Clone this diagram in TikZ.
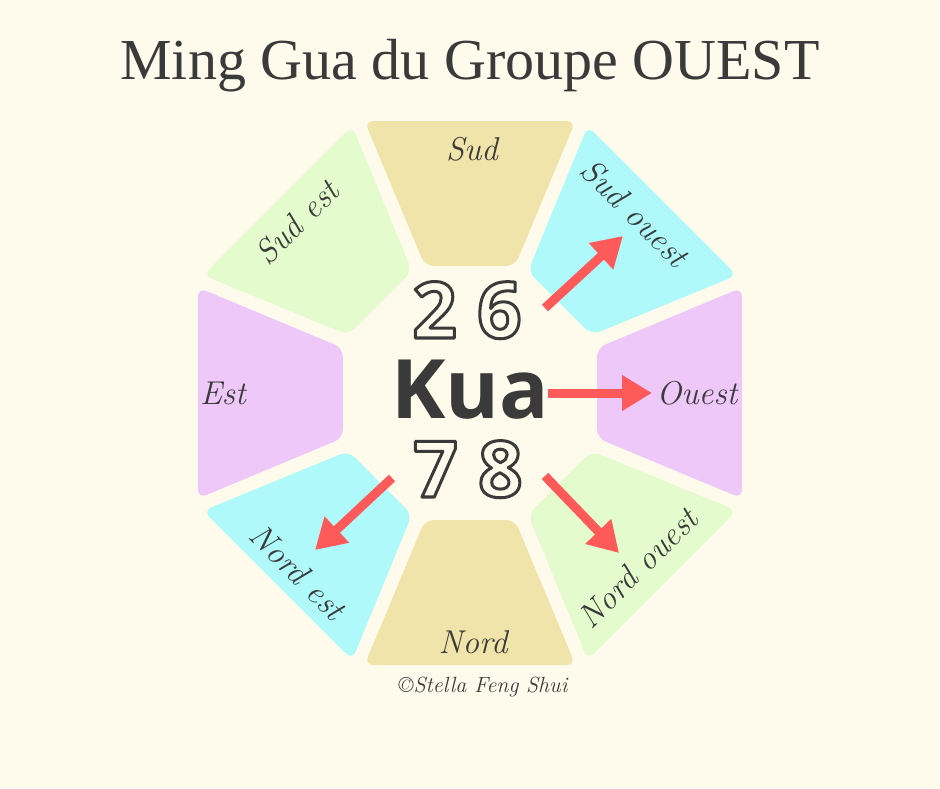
\documentclass[tikz,border=0pt]{standalone}
\usepackage{fontspec}
\newfontfamily\titlefont{Liberation Serif}
\newfontfamily\kuafont{Open Sans}
\usetikzlibrary{arrows.meta}

\definecolor{bgcream}{HTML}{FEFBEC}
\definecolor{ink}{HTML}{3A3A3A}
\definecolor{segtan}{HTML}{F1E4AA}
\definecolor{seggreen}{HTML}{E3FBCD}
\definecolor{segcyan}{HTML}{AFF9FB}
\definecolor{seglilac}{HTML}{EEC8F8}
\definecolor{arrowred}{HTML}{FF5A5A}

% hollow digits: stroke only
\newcommand{\hollow}[1]{\special{pdf:literal direct 1 Tr 3 w 1 j}#1\special{pdf:literal direct 0 Tr}}

\tikzset{
  segment/.style={fill=#1, rounded corners=9pt},
  place/.style={font=\itshape\fontsize{33}{33}\selectfont, text=ink, inner sep=0pt},
  kuaarrow/.style={draw=arrowred, line width=9pt, -{Triangle[length=30pt,width=34pt]}},
}

\begin{document}
\begin{tikzpicture}[x=1pt,y=1pt]
	\fill[bgcream] (-470,-395) rectangle (470,393);
	% octagon ring
	\foreach \a/\c in {0/segtan,45/seggreen,90/seglilac,135/segcyan,180/segtan,225/seggreen,270/seglilac,315/segcyan}
		\fill[segment=\c, rotate=\a] (-105.5,272) -- (105.5,272) -- (45,127) -- (-45,127) -- cycle;

	\node[font=\titlefont\fontsize{58}{58}\selectfont, text=ink, anchor=base] (title) at (0,313) {Ming Gua du Groupe OUEST};

	% directions
	\node[place] (sud) at (2,244) {Sud};
	\node[place, rotate=-45] (sudouest) at (165,180) {Sud ouest};
	\node[place, rotate=45] (sudest) at (-173,171) {Sud est};
	\node[place] (est) at (-247,0) {Est};
	\node[place] (ouest) at (227,0) {Ouest};
	\node[place, rotate=-45] (nordest) at (-172,-179) {Nord est};
	\node[place, rotate=45] (nordouest) at (168,-175) {Nord ouest};
	\node[place] (nord) at (3,-249) {Nord};
	\node[font=\itshape\fontsize{22}{22}\selectfont, text=ink] (copy) at (13,-294) {\char"00A9Stella Feng Shui};

	% centre
	\node[font=\kuafont\bfseries\fontsize{82}{82}\selectfont, text=ink, anchor=base] (kua) at (0,-25) {Kua};
	\node[font=\kuafont\bfseries\fontsize{78}{78}\selectfont, text=ink, anchor=base] (top) at (-3,55) {\hollow{2 6}};
	\node[font=\kuafont\bfseries\fontsize{78}{78}\selectfont, text=ink, anchor=base] (bottom) at (-2,-104) {\hollow{7 8}};

	% arrows
	\coordinate (so-a) at (75,85);
	\coordinate (so-b) at (153,157);
	\coordinate (o-a) at (78,0);
	\coordinate (o-b) at (182,0);
	\coordinate (ne-a) at (-78,-85);
	\coordinate (ne-b) at (-155,-157);
	\coordinate (no-a) at (75,-83);
	\coordinate (no-b) at (149,-160);
	\draw[kuaarrow] (so-a) -- (so-b);
	\draw[kuaarrow] (o-a) -- (o-b);
	\draw[kuaarrow] (ne-a) -- (ne-b);
	\draw[kuaarrow] (no-a) -- (no-b);
\end{tikzpicture}
\end{document}
